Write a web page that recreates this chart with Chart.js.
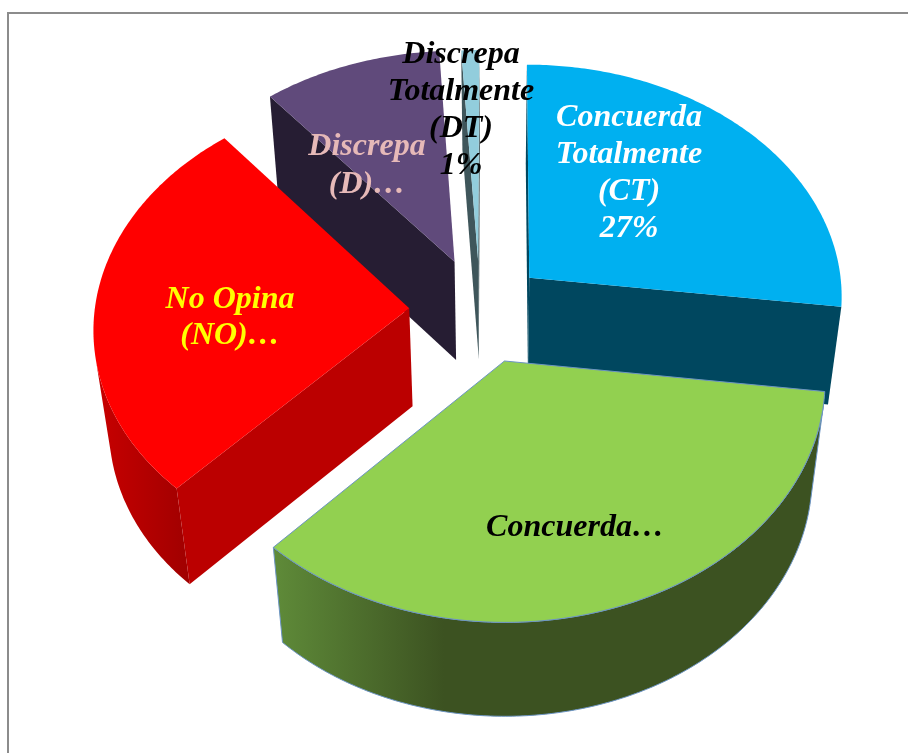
<!DOCTYPE html>
<html lang="es">
<head>
    <meta charset="UTF-8">
    <title>Opinión</title>
    <style>
        body { margin: 0; background: #fff; }
        #wrap { position: relative; width: 908px; height: 753px; overflow: hidden; }
        #frame {
            position: absolute; left: 7px; top: 12px; right: -5px; bottom: -5px;
            border-left: 2px solid #8c8c8c; border-top: 2px solid #8c8c8c;
        }
        canvas { position: absolute; left: 0; top: 0; }
    </style>
    <script src="https://cdn.jsdelivr.net/npm/chart.js@4"></script>
</head>
<body>
<div id="wrap">
    <canvas id="pie" width="908" height="753"></canvas>
    <div id="frame"></div>
</div>
<script>
    const categories = ['Concuerda Totalmente (CT)', 'Concuerda', 'No Opina (NO)', 'Discrepa (D)', 'Discrepa Totalmente (DT)'];
    const percentages = [27, 35, 27, 10, 1];

    const topColors = ['#00b0f0', '#92d050', '#ff0000', '#604a7b', '#92cddc'];
    const wallColors = ['#00475f', '#3c5221', '#bb0000', '#261d33', '#3f565b'];
    const rimColors = [['#00475f', '#00475f'], ['#5f8b39', '#3c5221'], ['#c80000', '#a00000'], ['#261d33', '#261d33'], ['#3f565b', '#3f565b']];
    const rimStops = [1, 0.31, 1, 1, 1];
    const edgeColors = ['transparent', '#6c94c4', 'transparent', 'transparent', 'transparent'];
    const explode = [71, 77, 76, 76, 72];

    const labelLines = [
        ['Concuerda', 'Totalmente', '(CT)', '27%'],
        ['Concuerda…'],
        ['No Opina', '(NO)…'],
        ['Discrepa', '(D)…'],
        ['Discrepa', 'Totalmente', '(DT)', '1%']
    ];
    const labelColors = ['#ffffff', '#000000', '#ffff00', '#e6b9b8', '#000000'];
    const labelAnchors = [[629, 126], [575, 536], [230, 308], [367, 155], [461, 63]];
    const labelLeading = [37, 37, 36, 38, 37];

    // camera looking down on the pie, used to turn the flat arcs into a solid
    const cam = { tilt: 48 * Math.PI / 180, dist: 2810, zoom: 0.932, axisX: 495, axisY: 310, shiftX: -15, depth: 152 };
    const sinT = Math.sin(cam.tilt), cosT = Math.cos(cam.tilt);

    function project(x, y, z) {
        const wx = x * cam.zoom + cam.shiftX;
        const d = cam.dist + y * cam.zoom * cosT - z * sinT;
        const k = cam.dist / d;
        return [cam.axisX + wx * k, cam.axisY - (y * cam.zoom * sinT + z * cosT) * k];
    }

    function facesCamera(nx, ny, px, py) {
        const cx = -cam.shiftX / cam.zoom, cy = -cam.dist * cosT / cam.zoom;
        return nx * (cx - px) + ny * (cy - py) > 0;
    }

    function fillPoly(ctx, pts, fill, edge) {
        ctx.beginPath();
        pts.forEach((p, i) => i ? ctx.lineTo(p[0], p[1]) : ctx.moveTo(p[0], p[1]));
        ctx.closePath();
        ctx.fillStyle = fill;
        ctx.fill();
        if (edge !== 'transparent') {
            ctx.lineWidth = 1;
            ctx.strokeStyle = edge;
            ctx.stroke();
        }
    }

    function drawSolidArc(ctx, arc, i) {
        const r = arc.outerRadius;
        const off = arc.options.offset;
        const start = arc.startAngle, end = arc.endAngle;
        const mid = (start + end) / 2;
        const ox = Math.cos(mid) * off, oy = -Math.sin(mid) * off;
        const h = cam.depth;
        const edge = arc.options.borderColor;

        const steps = Math.max(4, Math.round((end - start) * 90));
        const rimXY = [];
        for (let s = 0; s <= steps; s++) {
            const a = start + (end - start) * s / steps;
            rimXY.push([ox + Math.cos(a) * r, oy - Math.sin(a) * r, a]);
        }

        // outer curved wall, only the part turned towards the camera
        const vis = rimXY.filter(p => facesCamera(Math.cos(p[2]), -Math.sin(p[2]), p[0], p[1]));
        if (vis.length > 1) {
            const upper = vis.map(p => project(p[0], p[1], 0));
            const lower = vis.map(p => project(p[0], p[1], -h)).reverse();
            const poly = upper.concat(lower);
            const xs = poly.map(p => p[0]);
            const grad = ctx.createLinearGradient(Math.min(...xs), 0, Math.max(...xs), 0);
            grad.addColorStop(0, rimColors[i][0]);
            grad.addColorStop(rimStops[i], rimColors[i][1]);
            if (rimStops[i] < 1) grad.addColorStop(1, rimColors[i][1]);
            fillPoly(ctx, poly, grad, edge);
        }

        // flat cut walls either side of the slice
        const first = rimXY[0], last = rimXY[steps];
        if (facesCamera(Math.sin(start), Math.cos(start), ox, oy)) {
            fillPoly(ctx, [project(ox, oy, 0), project(first[0], first[1], 0), project(first[0], first[1], -h), project(ox, oy, -h)], wallColors[i], edge);
        }
        if (facesCamera(-Math.sin(end), -Math.cos(end), ox, oy)) {
            fillPoly(ctx, [project(ox, oy, 0), project(last[0], last[1], 0), project(last[0], last[1], -h), project(ox, oy, -h)], wallColors[i], edge);
        }

        // top face
        const top = [project(ox, oy, 0)].concat(rimXY.map(p => project(p[0], p[1], 0)));
        fillPoly(ctx, top, arc.options.backgroundColor, edge);
    }

    const solidPie = {
        id: 'solidPie',
        beforeDatasetsDraw(chart) {
            const ctx = chart.ctx;
            const arcs = chart.getDatasetMeta(0).data;
            const order = arcs.map((arc, i) => {
                const mid = (arc.startAngle + arc.endAngle) / 2;
                return { i, y: project(Math.cos(mid) * arc.options.offset, -Math.sin(mid) * arc.options.offset, 0)[1] };
            }).sort((a, b) => a.y - b.y);
            ctx.save();
            ctx.lineJoin = 'round';
            order.forEach(o => drawSolidArc(ctx, arcs[o.i], o.i));
            ctx.restore();
            return false;
        },
        afterDraw(chart) {
            const ctx = chart.ctx;
            ctx.save();
            ctx.font = 'italic bold 32px "Liberation Serif"';
            ctx.textAlign = 'center';
            ctx.textBaseline = 'alphabetic';
            labelLines.forEach((lines, i) => {
                ctx.fillStyle = labelColors[i];
                lines.forEach((t, n) => ctx.fillText(t, labelAnchors[i][0], labelAnchors[i][1] + n * labelLeading[i]));
            });
            ctx.restore();
        }
    };

    new Chart(document.getElementById('pie').getContext('2d'), {
        type: 'pie',
        data: {
            labels: categories,
            datasets: [{
                data: percentages,
                backgroundColor: topColors,
                borderColor: edgeColors,
                borderWidth: 1,
                offset: explode
            }]
        },
        options: {
            responsive: false,
            animation: false,
            plugins: { legend: { display: false }, tooltip: { enabled: false } }
        },
        plugins: [solidPie]
    });
</script>
</body>
</html>
